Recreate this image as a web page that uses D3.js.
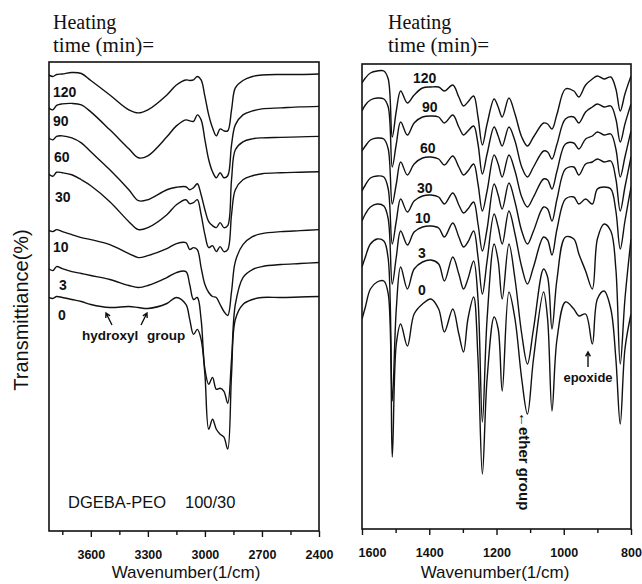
<!DOCTYPE html>
<html>
<head>
<meta charset="utf-8">
<script src="https://cdn.jsdelivr.net/npm/d3@7"></script>
<style>
  body { margin: 0; background: #fff; }
  svg text { font-family: "Liberation Sans", Arial, sans-serif; fill: #111; }
  .serif { font-family: "Liberation Serif", "Times New Roman", serif; }
  .bold { font-weight: bold; }
  .curve { fill: none; stroke: #111; stroke-width: 1.4; stroke-linejoin: round; }
  .frame { fill: none; stroke: #111; stroke-width: 1.6; }
  .tick line { stroke: #111; stroke-width: 1.4; }
  .tick text { font-weight: bold; }
</style>
</head>
<body>
<div id="chart"></div>
<script>
// heating times, top curve first
const times = ['120', '90', '60', '30', '10', '3', '0'];

// left panel: 3830-2400 1/cm (O-H and C-H stretching)
const leftWn = [3830, 3800, 3780, 3750, 3700, 3650, 3600, 3500, 3400, 3350, 3300, 3200, 3150, 3100, 3080, 3060,
  3040, 3020, 3000, 2980, 2960, 2940, 2920, 2900, 2880, 2860, 2840, 2800, 2750, 2700, 2600, 2500, 2400];
const left120 = [91.6, 91.1, 91.5, 91.6, 91.9, 91.7, 90.3, 87.4, 84.4, 83.8, 84.4, 87.4, 89.4, 90.4, 90.3, 90.4,
  91.1, 90.4, 87.1, 83.4, 80.8, 79.2, 80.6, 80.2, 80.2, 84.4, 88.8, 90.3, 91.1, 91.4, 91.5, 91.5, 91.6];
const left90 = [85.1, 84.4, 85.3, 85.6, 85.7, 85.4, 84.0, 80.4, 76.6, 74.8, 75.2, 79.0, 81.2, 82.4, 82.2, 82.1,
  83.4, 82.4, 78.4, 74.4, 72.0, 70.8, 71.8, 70.8, 71.2, 77.4, 81.4, 83.4, 84.2, 84.6, 84.8, 85.0, 85.1];
const left60 = [79.0, 78.4, 79.1, 79.2, 78.8, 77.8, 76.0, 72.4, 68.4, 66.2, 66.4, 68.4, 68.9, 69.0, 68.4, 68.8,
  69.6, 67.4, 64.4, 62.0, 61.2, 60.8, 61.8, 60.8, 61.2, 70.4, 76.4, 78.0, 78.6, 78.8, 78.9, 79.0, 79.1];
const left30 = [71.8, 71.1, 71.9, 71.8, 71.4, 70.4, 69.2, 66.0, 62.0, 60.4, 60.8, 63.4, 65.4, 66.4, 65.6, 65.8,
  66.4, 63.4, 59.4, 56.8, 57.2, 56.0, 57.0, 56.0, 56.4, 63.4, 68.4, 70.4, 71.2, 71.6, 71.8, 71.9, 72.0];
const left10 = [60.4, 60.0, 60.4, 60.0, 59.4, 58.8, 58.4, 57.4, 55.6, 54.8, 55.2, 56.6, 57.6, 57.8, 56.4, 56.8,
  56.4, 52.8, 49.4, 47.8, 47.0, 46.8, 45.4, 44.0, 43.2, 48.0, 54.0, 57.4, 59.0, 59.6, 60.0, 60.2, 60.4];
const left3 = [52.8, 52.2, 53.0, 52.6, 52.0, 51.6, 51.2, 50.4, 49.2, 48.8, 49.2, 50.8, 51.8, 52.0, 49.4, 46.4,
  46.8, 42.4, 32.4, 29.4, 30.8, 28.4, 28.6, 28.0, 25.6, 34.4, 45.4, 50.8, 52.4, 53.0, 53.4, 53.6, 53.8];
const left0 = [47.0, 46.6, 47.0, 46.8, 46.4, 46.0, 45.4, 44.8, 45.0, 44.8, 44.6, 45.6, 46.8, 45.4, 42.4, 39.4,
  40.4, 38.4, 31.4, 20.4, 22.4, 20.4, 19.4, 18.8, 16.4, 31.4, 42.4, 45.4, 46.4, 46.8, 46.8, 46.9, 47.0];

// right panel: 1600-800 1/cm (fingerprint region)
const rightWn = [1600, 1590, 1575, 1555, 1535, 1522, 1510, 1498, 1485, 1465, 1445, 1420, 1395, 1372, 1355, 1330,
  1312, 1298, 1285, 1268, 1255, 1242, 1228, 1207, 1195, 1183, 1163, 1145, 1125, 1108, 1090, 1060, 1048, 1035,
  1020, 995, 970, 955, 935, 915, 900, 880, 860, 845, 832, 818, 800];
const right120 = [89.2, 90.2, 91.2, 91.6, 91.6, 90.0, 78.4, 83.6, 87.6, 85.2, 86.8, 88.2, 88.4, 88.4, 87.6, 88.8,
  86.4, 84.6, 85.4, 86.6, 82.4, 76.8, 81.0, 86.0, 84.4, 82.4, 86.2, 83.0, 78.4, 76.6, 78.4, 81.2, 81.0, 80.0,
  83.0, 88.0, 87.6, 86.4, 88.8, 90.0, 90.6, 90.0, 90.4, 88.0, 83.6, 87.0, 90.6];
const right90 = [83.6, 84.8, 85.8, 86.2, 86.0, 84.4, 72.4, 77.0, 81.4, 78.8, 81.2, 82.4, 82.6, 82.4, 81.2, 82.8,
  80.4, 78.8, 79.6, 80.6, 77.0, 71.0, 75.0, 80.4, 78.6, 76.6, 80.4, 77.6, 72.4, 70.4, 72.4, 75.6, 75.4, 74.0,
  77.0, 82.0, 82.4, 81.2, 83.4, 84.4, 85.0, 84.4, 84.6, 82.0, 77.4, 81.0, 85.0];
const right60 = [75.6, 76.6, 77.8, 78.2, 78.0, 76.0, 65.0, 69.0, 73.4, 70.8, 73.0, 74.2, 74.4, 74.0, 72.8, 74.6,
  72.4, 70.8, 71.6, 73.0, 69.0, 63.6, 67.6, 74.8, 73.0, 70.4, 74.8, 71.6, 66.4, 64.4, 66.4, 70.0, 69.8, 68.0,
  71.6, 77.0, 77.2, 76.0, 78.0, 78.6, 79.4, 78.8, 79.0, 76.0, 70.4, 74.4, 79.6];
const right30 = [67.6, 68.8, 70.2, 70.6, 70.4, 68.0, 57.0, 61.6, 66.0, 63.4, 65.6, 66.6, 66.8, 66.4, 65.0, 67.2,
  64.8, 63.2, 64.0, 65.4, 61.0, 55.6, 60.0, 69.0, 66.8, 64.0, 69.2, 65.4, 59.6, 57.0, 59.6, 64.4, 64.0, 61.6,
  66.0, 72.0, 72.4, 70.8, 73.0, 73.4, 74.0, 73.4, 73.6, 70.0, 63.6, 68.4, 74.4];
const right10 = [61.6, 63.0, 64.4, 65.0, 64.6, 62.0, 49.0, 54.4, 59.6, 56.8, 59.4, 60.4, 60.6, 60.2, 58.4, 61.2,
  58.4, 56.4, 57.4, 59.6, 54.4, 47.0, 53.6, 63.0, 60.4, 57.0, 63.6, 59.0, 52.4, 49.0, 52.4, 58.4, 57.8, 54.8,
  60.0, 66.0, 66.4, 65.0, 66.0, 65.0, 68.0, 68.4, 68.0, 63.6, 56.0, 61.6, 68.4];
const right3 = [52.4, 54.4, 57.0, 58.0, 57.6, 54.0, 25.6, 44.0, 52.4, 48.0, 52.0, 53.4, 53.8, 53.0, 49.6, 54.4,
  51.0, 48.0, 50.0, 53.6, 46.0, 21.4, 42.0, 57.0, 53.6, 46.0, 57.0, 50.0, 39.0, 33.0, 40.0, 52.0, 50.4, 40.0,
  50.0, 58.4, 58.0, 55.0, 51.6, 48.0, 58.0, 61.0, 59.6, 52.0, 33.0, 46.0, 58.0];
const right0 = [42.0, 44.4, 48.0, 49.4, 49.6, 47.0, 14.4, 37.0, 41.0, 36.6, 43.0, 45.0, 46.0, 44.0, 39.4, 44.0,
  39.0, 35.4, 42.0, 46.4, 34.0, 11.0, 30.0, 42.4, 40.0, 27.6, 47.4, 42.0, 30.0, 23.0, 34.0, 47.4, 42.0, 23.6,
  38.0, 45.4, 44.0, 42.6, 43.0, 37.0, 46.0, 47.6, 44.0, 34.0, 21.0, 36.0, 43.0];

const leftTicks = [3600, 3300, 3000, 2700, 2400];
const leftMinor = [3750, 3450, 3150, 2850, 2550];
const rightTicks = [1600, 1400, 1200, 1000, 800];
const rightMinor = [1500, 1300, 1100, 900];

const leftSeries = [left120, left90, left60, left30, left10, left3, left0];
const rightSeries = [right120, right90, right60, right30, right10, right3, right0];

const width = 642;
const height = 584;

const svg = d3.select('#chart').append('svg')
  .attr('width', width)
  .attr('height', height);

const xL = d3.scaleLinear().domain([3820, 2400]).range([49, 319]);
const yL = d3.scaleLinear().domain([0, 94]).range([531, 62]);
const xR = d3.scaleLinear().domain([1600, 800]).range([362, 631]);
const yR = d3.scaleLinear().domain([0, 93]).range([529, 64]);

function addPanel(id, x, y, wn, series) {
  const [x0, x1] = x.range();
  const [y1, y0] = y.range();
  svg.append('clipPath').attr('id', id)
     .append('rect')
     .attr('x', x0).attr('y', y0)
     .attr('width', x1 - x0).attr('height', y1 - y0);

  const valueline = d3.line()
    .x((d, i) => x(wn[i]))
    .y((d) => y(d))
    .curve(d3.curveCatmullRom.alpha(0.5));

  svg.append('g')
     .attr('clip-path', `url(#${id})`)
     .selectAll('.curve')
     .data(series)
     .enter()
     .append('path')
     .attr('class', 'curve')
     .attr('d', valueline);

  svg.append('rect')
     .attr('class', 'frame')
     .attr('x', x0).attr('y', y0)
     .attr('width', x1 - x0).attr('height', y1 - y0);
}

function addXAxis(x, top, major, minor) {
  svg.append('g')
     .attr('transform', `translate(0, ${top})`)
     .call(d3.axisBottom(x).tickValues(minor).tickSize(4).tickFormat(''))
     .call((g) => g.select('.domain').remove());
  const ax = svg.append('g')
     .attr('transform', `translate(0, ${top})`)
     .call(d3.axisBottom(x).tickValues(major).tickSize(6).tickPadding(13).tickFormat(d3.format('d')));
  ax.select('.domain').remove();
  ax.attr('font-size', 12.5).attr('font-family', null);
  return ax;
}

addPanel('clipL', xL, yL, leftWn, leftSeries);
addPanel('clipR', xR, yR, rightWn, rightSeries);

addXAxis(xL, 531, leftTicks, leftMinor);
const axR = addXAxis(xR, 529, rightTicks, rightMinor);
axR.selectAll('.tick text').filter((d) => d === 1600).attr('dx', 10);

// axis titles
svg.append('text')
   .attr('x', 186).attr('y', 578)
   .attr('text-anchor', 'middle')
   .attr('font-size', 17)
   .text('Wavenumber(1/cm)');
svg.append('text')
   .attr('x', 495).attr('y', 578)
   .attr('text-anchor', 'middle')
   .attr('font-size', 17)
   .text('Wavenumber(1/cm)');
svg.append('text')
   .attr('transform', 'translate(28, 310) rotate(-90)')
   .attr('text-anchor', 'middle')
   .attr('font-size', 20)
   .text('Transmittiance(%)');

// headers
[53, 388].forEach((hx) => {
  svg.append('text').attr('class', 'serif')
     .attr('x', hx).attr('y', 29).attr('font-size', 20)
     .text('Heating');
  svg.append('text').attr('class', 'serif')
     .attr('x', hx).attr('y', 52).attr('font-size', 21)
     .text('time (min)=');
});

// curve labels
const leftLabelPos = [[53, 97], [53, 126], [54, 162], [55, 202], [53, 252], [59, 290], [58, 320]];
const rightLabelPos = [[413, 83], [422, 112], [420, 153], [417, 193], [415, 223], [418, 258], [418, 295]];
times.forEach((t, i) => {
  svg.append('text').attr('class', 'bold')
     .attr('x', leftLabelPos[i][0]).attr('y', leftLabelPos[i][1])
     .attr('font-size', 14).text(t);
  svg.append('text').attr('class', 'bold')
     .attr('x', rightLabelPos[i][0]).attr('y', rightLabelPos[i][1])
     .attr('font-size', 14).text(t);
});

// annotations
function arrow(xa, ya, xb, yb) {
  const a = Math.atan2(yb - ya, xb - xa);
  const h = 5;
  svg.append('path')
     .attr('d', `M${xa},${ya}L${xb},${yb}` +
       `M${xb - h * Math.cos(a - 0.5)},${yb - h * Math.sin(a - 0.5)}L${xb},${yb}` +
       `L${xb - h * Math.cos(a + 0.5)},${yb - h * Math.sin(a + 0.5)}`)
     .attr('fill', 'none')
     .attr('stroke', '#111')
     .attr('stroke-width', 1.4);
}

svg.append('text').attr('class', 'bold').attr('x', 82).attr('y', 340).attr('font-size', 13.5).text('hydroxyl');
svg.append('text').attr('class', 'bold').attr('x', 147).attr('y', 340).attr('font-size', 13.5).text('group');
arrow(112, 325, 106, 313);
arrow(141, 325, 147, 313);

svg.append('text').attr('x', 68).attr('y', 508).attr('font-size', 16.5).text('DGEBA-PEO');
svg.append('text').attr('x', 185).attr('y', 508).attr('font-size', 16.5).text('100/30');

svg.append('rect').attr('x', 563).attr('y', 370).attr('width', 50).attr('height', 15).attr('fill', '#fff');
svg.append('text').attr('class', 'bold').attr('x', 588).attr('y', 382).attr('text-anchor', 'middle')
   .attr('font-size', 13).text('epoxide');
arrow(588, 367, 588, 352);

svg.append('text').attr('class', 'bold')
   .attr('transform', 'translate(519, 412) rotate(90)')
   .attr('font-size', 15)
   .text('\u2190ether  group');
</script>
</body>
</html>
